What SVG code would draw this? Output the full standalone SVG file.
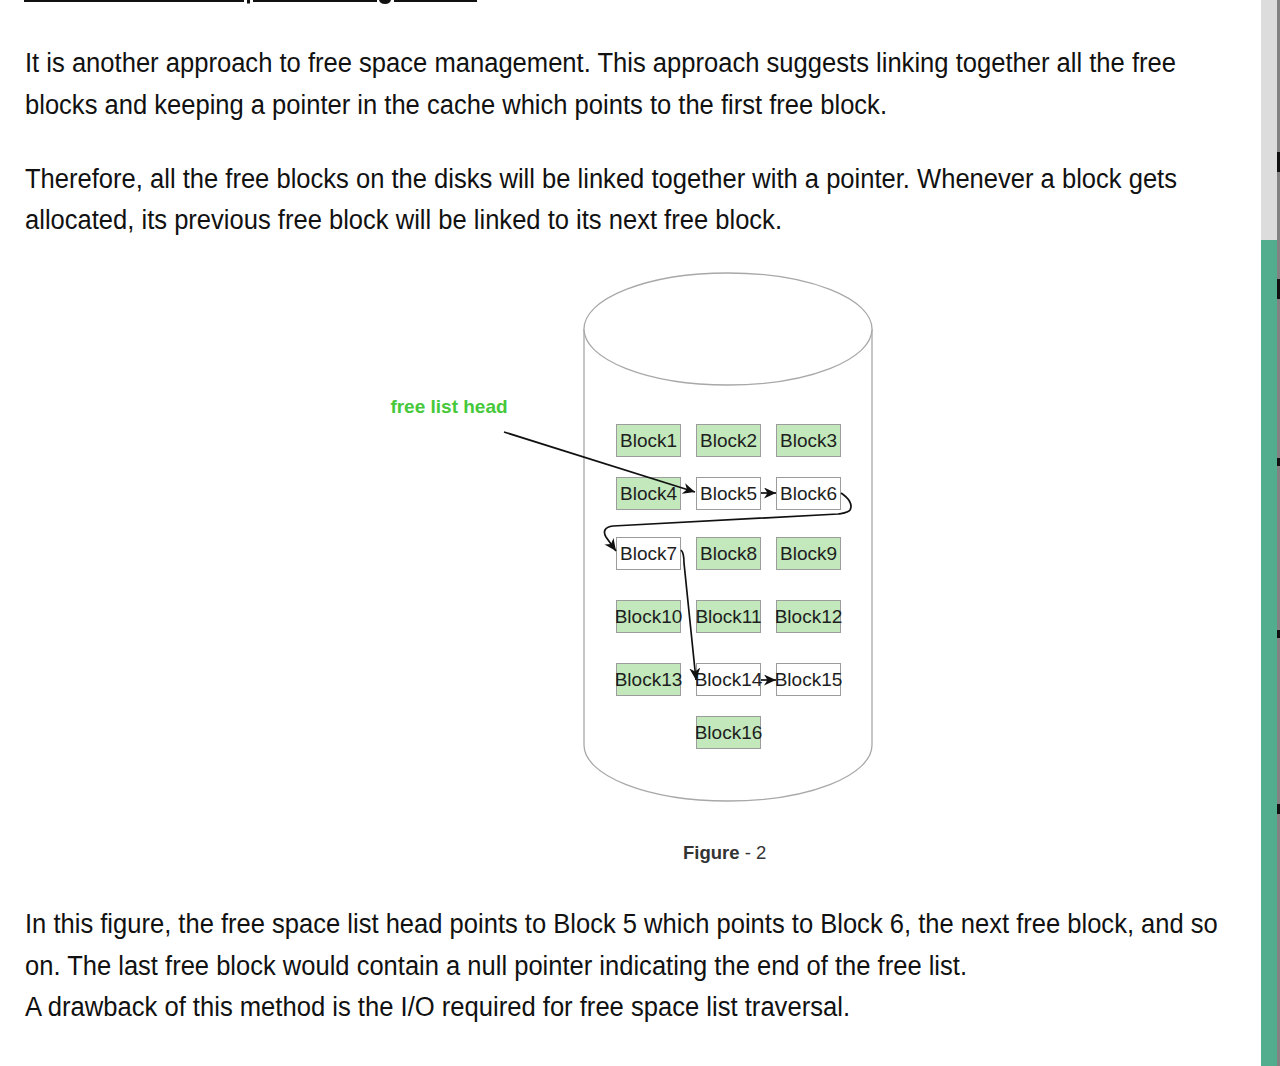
<svg xmlns="http://www.w3.org/2000/svg" width="1280" height="1066" viewBox="0 0 1280 1066">
<style>
.body{font-family:"Liberation Sans",Arial,Helvetica,sans-serif;font-size:27px;fill:#111}
.blk rect{stroke:#9c9c9c;stroke-width:1}
.g rect{fill:#c2e8bc}
.w rect{fill:#ffffff}
.blk text{font-family:"Liberation Sans",Arial,sans-serif;font-size:19px;fill:#1e1e1e;text-anchor:middle}
.conn path{fill:none;stroke:#111;stroke-width:1.7}
</style>
<defs>
<marker id="arr" markerUnits="userSpaceOnUse" markerWidth="14" markerHeight="12" refX="12" refY="5.5" orient="auto">
<path d="M0,0 L12,5.5 L0,11 L3.5,5.5 z" fill="#111"/>
</marker>
</defs>
<rect x="0" y="0" width="1280" height="1066" fill="#ffffff"/>

<g id="heading-remnant" fill="#111">
<rect x="24" y="0" width="220" height="2"/>
<rect x="247" y="0" width="3" height="3.5"/>
<rect x="253" y="0" width="124" height="2"/>
<path d="M379,0 Q380,4 385,4 Q390,4 391,0 Z"/>
<rect x="394" y="0" width="83" height="2"/>
</g>

<g id="intro-text" class="body">
<text x="25" y="72" textLength="1151" lengthAdjust="spacingAndGlyphs">It is another approach to free space management. This approach suggests linking together all the free</text>
<text x="25" y="114" textLength="862" lengthAdjust="spacingAndGlyphs">blocks and keeping a pointer in the cache which points to the first free block.</text>
<text x="25" y="188" textLength="1152" lengthAdjust="spacingAndGlyphs">Therefore, all the free blocks on the disks will be linked together with a pointer. Whenever a block gets</text>
<text x="25" y="229" textLength="757" lengthAdjust="spacingAndGlyphs">allocated, its previous free block will be linked to its next free block.</text>
</g>

<g id="disk">
<path d="M584,329 L584,745 A144,56 0 0 0 872,745 L872,329" fill="#ffffff" stroke="#a8a8a8" stroke-width="1.3"/>
<ellipse cx="728" cy="329" rx="144" ry="56" fill="#ffffff" stroke="#a8a8a8" stroke-width="1.3"/>
</g>

<g id="free-list-head">
<text x="449" y="413" font-family="Liberation Sans, Arial, sans-serif" font-size="19" font-weight="bold" fill="#45c83a" text-anchor="middle">free list head</text>
</g>

<g id="block1" class="blk g"><rect x="616.5" y="424.5" width="64" height="32"/><text x="648.5" y="447">Block1</text></g>
<g id="block2" class="blk g"><rect x="696.5" y="424.5" width="64" height="32"/><text x="728.5" y="447">Block2</text></g>
<g id="block3" class="blk g"><rect x="776.5" y="424.5" width="64" height="32"/><text x="808.5" y="447">Block3</text></g>
<g id="block4" class="blk g"><rect x="616.5" y="477.5" width="64" height="32"/><text x="648.5" y="500">Block4</text></g>
<g id="block5" class="blk w"><rect x="696.5" y="477.5" width="64" height="32"/><text x="728.5" y="500">Block5</text></g>
<g id="block6" class="blk w"><rect x="776.5" y="477.5" width="64" height="32"/><text x="808.5" y="500">Block6</text></g>
<g id="block7" class="blk w"><rect x="616.5" y="537.5" width="64" height="32"/><text x="648.5" y="560">Block7</text></g>
<g id="block8" class="blk g"><rect x="696.5" y="537.5" width="64" height="32"/><text x="728.5" y="560">Block8</text></g>
<g id="block9" class="blk g"><rect x="776.5" y="537.5" width="64" height="32"/><text x="808.5" y="560">Block9</text></g>
<g id="block10" class="blk g"><rect x="616.5" y="600.5" width="64" height="32"/><text x="648.5" y="623">Block10</text></g>
<g id="block11" class="blk g"><rect x="696.5" y="600.5" width="64" height="32"/><text x="728.5" y="623">Block11</text></g>
<g id="block12" class="blk g"><rect x="776.5" y="600.5" width="64" height="32"/><text x="808.5" y="623">Block12</text></g>
<g id="block13" class="blk g"><rect x="616.5" y="663.5" width="64" height="32"/><text x="648.5" y="686">Block13</text></g>
<g id="block14" class="blk w"><rect x="696.5" y="663.5" width="64" height="32"/><text x="728.5" y="686">Block14</text></g>
<g id="block15" class="blk w"><rect x="776.5" y="663.5" width="64" height="32"/><text x="808.5" y="686">Block15</text></g>
<g id="block16" class="blk g"><rect x="696.5" y="716.5" width="64" height="32"/><text x="728.5" y="739">Block16</text></g>

<g id="connectors" class="conn">
<path d="M504,432 L695,492" marker-end="url(#arr)"/>
<path d="M761,493 L776,493" marker-end="url(#arr)"/>
<path d="M841,493 C849,498 853,505 850,510 C848,513 844,513 838,514 L613,526 C604,527 603,532 606,537 L616,551" marker-end="url(#arr)"/>
<path d="M681,550 C684,553 684,558 684,563 L696,680" marker-end="url(#arr)"/>
<path d="M761,680 L776,680" marker-end="url(#arr)"/>
</g>

<g id="caption">
<text x="683" y="859" font-family="Liberation Sans, Arial, sans-serif" font-size="18.5" fill="#333"><tspan font-weight="bold">Figure</tspan> - 2</text>
</g>

<g id="outro-text" class="body">
<text transform="translate(25,933) scale(0.86,1)" x="0" y="0" textLength="1387" lengthAdjust="spacingAndGlyphs">In this figure, the free space list head points to Block 5 which points to Block 6, the next free block, and so</text>
<text x="25" y="975" textLength="942" lengthAdjust="spacingAndGlyphs">on. The last free block would contain a null pointer indicating the end of the free list.</text>
<text x="25" y="1016" textLength="825" lengthAdjust="spacingAndGlyphs">A drawback of this method is the I/O required for free space list traversal.</text>
</g>

<g id="scrollbar">
<rect x="1261" y="0" width="16" height="240" fill="#dcdcdc"/>
<rect x="1261" y="240" width="16" height="826" fill="#52ad8f"/>
<rect x="1277" y="0" width="3" height="1066" fill="#828282"/>
<rect x="1277" y="152" width="3" height="20" fill="#111"/>
<rect x="1277" y="279" width="3" height="20" fill="#111"/>
<rect x="1277" y="458" width="3" height="8" fill="#111"/>
<rect x="1277" y="630" width="3" height="8" fill="#111"/>
<rect x="1277" y="804" width="3" height="10" fill="#111"/>
</g>
</svg>
